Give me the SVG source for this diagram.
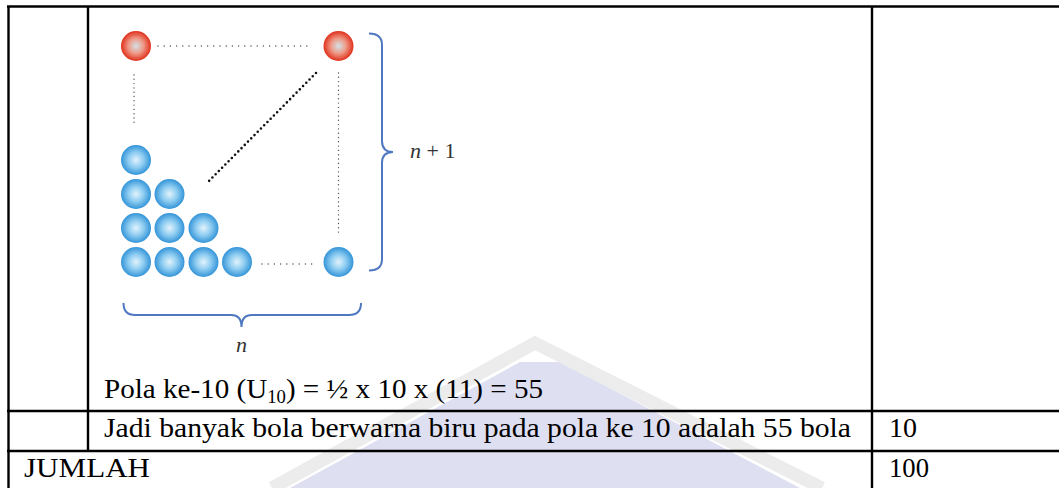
<svg xmlns="http://www.w3.org/2000/svg" width="1059" height="488" viewBox="0 0 1059 488">
<defs>
<radialGradient id="gBlue" cx="0.5" cy="0.5" r="0.5">
<stop offset="0" stop-color="#e2f3fc"/>
<stop offset="0.5" stop-color="#8fcdf1"/>
<stop offset="1" stop-color="#3394d8"/>
</radialGradient>
<radialGradient id="gRed" cx="0.5" cy="0.5" r="0.5">
<stop offset="0" stop-color="#d3e2e8"/>
<stop offset="0.5" stop-color="#ee9a88"/>
<stop offset="1" stop-color="#e0301b"/>
</radialGradient>
<style>
.tl{stroke:#000;stroke-width:2.4;fill:none}
.dot{stroke:#555;stroke-width:1.5;stroke-linecap:round;fill:none;stroke-dasharray:0 6.2}
.dotv{stroke:#555;stroke-width:1.4;stroke-linecap:round;fill:none;stroke-dasharray:0 4.3}
.diag{stroke:#111;stroke-width:2.6;stroke-linecap:round;fill:none;stroke-dasharray:0 4.6}
.brace{stroke:#4f78c0;stroke-width:2;fill:none}
.t{font-family:"Liberation Serif","Times New Roman",serif;font-size:28px;fill:#000}
.m{font-family:"Liberation Serif","Times New Roman",serif;font-size:22px;fill:#333}
.b{fill:url(#gBlue)}
.r{fill:url(#gRed)}
</style>
</defs>
<rect width="1059" height="488" fill="#fff"/>
<g id="watermark">
<polygon points="290,488 520,362 560,362 800,488" fill="#dfdff2"/>
<polyline points="272,488 535,343 822,488" fill="none" stroke="#ececec" stroke-width="13"/>
</g>
<g id="table">
<line class="tl" x1="7" y1="6.5" x2="1059" y2="6.5"/>
<line class="tl" x1="8.5" y1="6.5" x2="8.5" y2="488"/>
<line class="tl" x1="88" y1="6.5" x2="88" y2="451"/>
<line class="tl" x1="872" y1="6.5" x2="872" y2="488"/>
<line class="tl" x1="7" y1="411" x2="1059" y2="411"/>
<line class="tl" x1="7" y1="451" x2="1059" y2="451"/>
</g>
<g id="connectors">
<line class="dot" x1="158" y1="46" x2="312" y2="46"/>
<line class="dot" x1="262" y1="264" x2="312" y2="264"/>
<line class="dotv" x1="134" y1="75" x2="134" y2="126"/>
<line class="dotv" x1="338.5" y1="73" x2="338.5" y2="236"/>
<line class="diag" x1="316" y1="73" x2="207" y2="183"/>
</g>
<g id="red-balls">
<circle class="r" cx="136" cy="46" r="15"/>
<circle class="r" cx="338.5" cy="46" r="15"/>
</g>
<g id="blue-balls">
<circle class="b" cx="136" cy="160" r="15"/>
<circle class="b" cx="136" cy="194" r="15"/>
<circle class="b" cx="169.5" cy="194" r="15"/>
<circle class="b" cx="136" cy="228" r="15"/>
<circle class="b" cx="169.5" cy="228" r="15"/>
<circle class="b" cx="203.5" cy="228" r="15"/>
<circle class="b" cx="136" cy="262" r="15"/>
<circle class="b" cx="169.5" cy="262" r="15"/>
<circle class="b" cx="203.5" cy="262" r="15"/>
<circle class="b" cx="237" cy="262" r="15"/>
<circle class="b" cx="338.5" cy="262" r="15"/>
</g>
<g id="brace-right">
<path class="brace" d="M369,33.5 Q382,33.5 382,45 L382,141 Q382,152 393,152 Q382,152 382,163 L382,259 Q382,270.5 369,270.5"/>
<text class="m" x="410" y="158"><tspan font-style="italic">n</tspan> + 1</text>
</g>
<g id="brace-bottom">
<path class="brace" d="M123.5,303 Q123.5,315 135,315 L231,315 Q241.5,315 241.5,327 Q241.5,315 252,315 L349,315 Q361,315 361,303"/>
<text class="m" x="241.5" y="352" text-anchor="middle" font-style="italic">n</text>
</g>
<g id="cells">
<text class="t" x="104" y="398" textLength="439" lengthAdjust="spacingAndGlyphs">Pola ke-10 (U<tspan font-size="18" dy="5">10</tspan><tspan dy="-5">) = ½ x 10 x (11) = 55</tspan></text>
<text class="t" x="104" y="437" textLength="747" lengthAdjust="spacingAndGlyphs">Jadi banyak bola berwarna biru pada pola ke 10 adalah 55 bola</text>
<text class="t" x="889" y="437">10</text>
<text class="t" x="24" y="477" textLength="126" lengthAdjust="spacingAndGlyphs">JUMLAH</text>
<text class="t" x="889" y="477" textLength="40" lengthAdjust="spacingAndGlyphs">100</text>
</g>
</svg>
